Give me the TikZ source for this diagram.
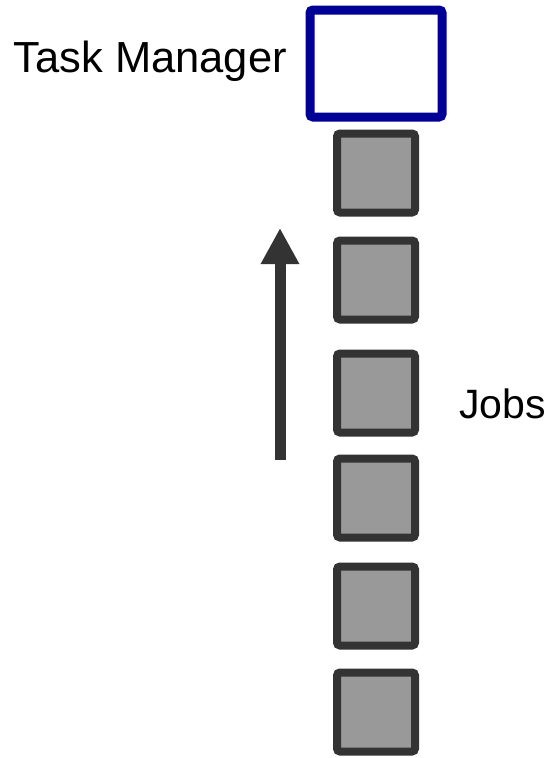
\documentclass[tikz,border=0pt]{standalone}
\usepackage{fontspec}
\setmainfont{Liberation Sans}
\usetikzlibrary{arrows.meta}
\definecolor{tmblue}{RGB}{0,0,150}
\definecolor{jobfill}{RGB}{153,153,153}
\definecolor{jobline}{RGB}{51,51,51}
\tikzset{
  tmbox/.style={draw=tmblue, line width=9pt, fill=white, rounded corners=3pt, minimum width=132pt, minimum height=107pt, inner sep=0pt},
  jobbox/.style={draw=jobline, line width=8pt, fill=jobfill, rounded corners=3pt, minimum width=78pt, minimum height=79pt, inner sep=0pt},
  lbl/.style={font=\fontsize{43.5}{48}\selectfont, inner sep=0pt},
  lbls/.style={font=\fontsize{41}{46}\selectfont, inner sep=0pt},
  uparrow/.style={draw=jobline, line width=11pt, -{Triangle[width=36pt,length=36pt]}}
}
\begin{document}
\begin{tikzpicture}[x=1pt,y=-1pt]
\useasboundingbox (0,0) rectangle (555,758);
\node[tmbox] (tm) at (376,63.5) {};
\node[lbl, anchor=base east] (tmlabel) at (287,72) {Task Manager};
\foreach \i/\y in {1/173,2/280,3/393,4/498,5/606,6/712} {
  \node[jobbox] (job\i) at (376,\y) {};
}
\node[lbls, anchor=base west] (jobs) at (459,418) {Jobs};
\coordinate (arrowtail) at (280,460);
\coordinate (arrowhead) at (280,228);
\draw[uparrow] (arrowtail) -- (arrowhead);
\end{tikzpicture}
\end{document}
